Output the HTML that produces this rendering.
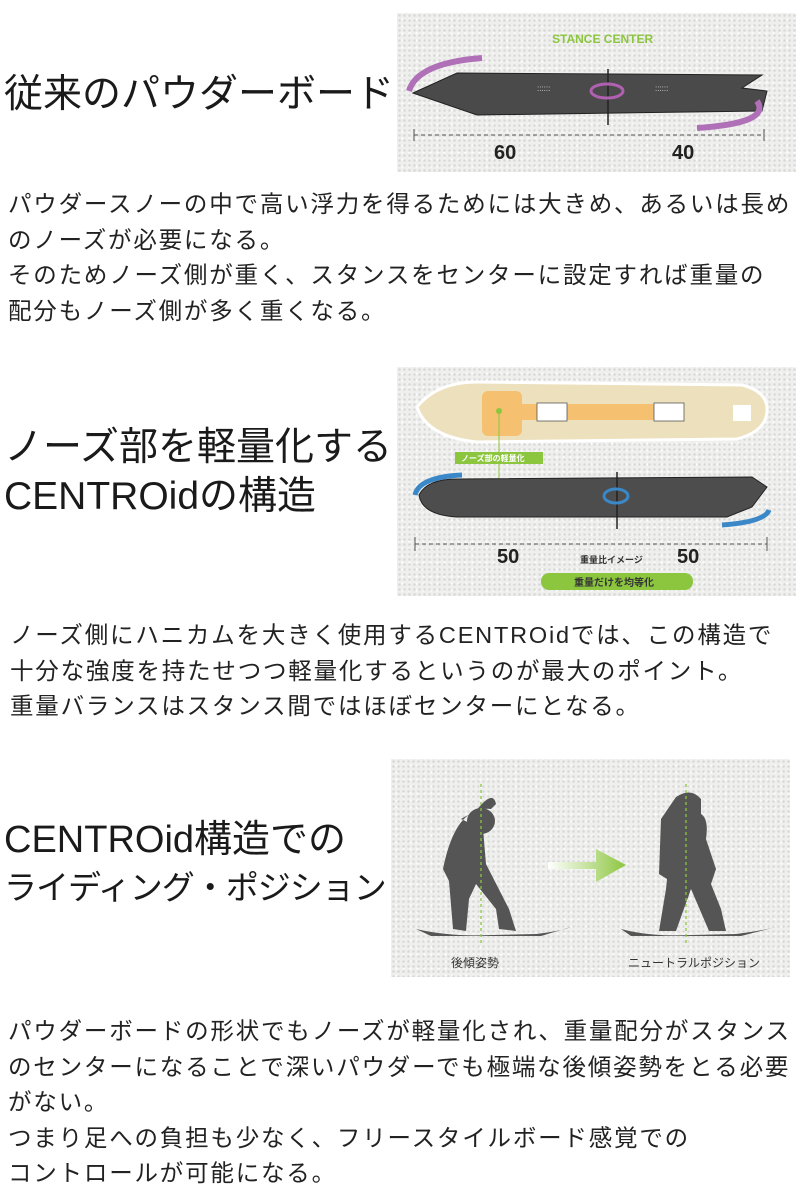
<!DOCTYPE html>
<html><head><meta charset="utf-8"><style>
*{margin:0;padding:0;box-sizing:border-box}
body{width:800px;height:1200px;background:#fff;position:relative;overflow:hidden;font-family:"Liberation Sans","Noto Sans CJK JP",sans-serif;color:#222}
.h{position:absolute;left:4px;font-size:39px;line-height:48px;white-space:nowrap;color:#1a1a1a;z-index:2}
.b{position:absolute;left:8px;font-size:23.5px;line-height:35.5px;white-space:nowrap;letter-spacing:1.8px;color:#222}
.img{position:absolute;background:#efefed;background-image:radial-gradient(#d8d8d6 1px,transparent 1.5px),radial-gradient(#fbfbfb 1px,transparent 1.5px);background-size:5px 5px,7px 7px;background-position:0 0,2px 3px}
</style></head><body>

<div class="h" style="top:71px">従来のパウダーボード</div>
<div class="img" style="left:397px;top:13px;width:399px;height:159px">
<svg width="399" height="159" viewBox="0 0 399 159">
<text x="155" y="30" font-family="Liberation Sans" font-weight="bold" font-size="12" fill="#8cc63f">STANCE CENTER</text>
<path d="M16 80 L60 60 L365 62 L345 75 L370 78 L365 98 L80 102 Z" fill="#4a4a4a" stroke="#222" stroke-width="1"/>
<line x1="211" y1="56" x2="211" y2="112" stroke="#222" stroke-width="1.5"/>
<ellipse cx="210" cy="78" rx="16" ry="7" fill="none" stroke="#b060b0" stroke-width="3"/>
<path d="M12 78 Q20 50 85 45" fill="none" stroke="#b070b8" stroke-width="6"/>
<path d="M360 88 Q375 110 300 115" fill="none" stroke="#b070b8" stroke-width="6"/>
<text x="140" y="78" font-size="8" fill="#ddd">::::::</text><text x="258" y="78" font-size="8" fill="#ddd">::::::</text>
<line x1="17" y1="122" x2="367" y2="122" stroke="#555" stroke-dasharray="4 3"/>
<line x1="17" y1="116" x2="17" y2="128" stroke="#555"/><line x1="367" y1="116" x2="367" y2="128" stroke="#555"/>
<text x="97" y="146" font-family="Liberation Sans" font-weight="bold" font-size="20" fill="#222">60</text>
<text x="275" y="146" font-family="Liberation Sans" font-weight="bold" font-size="20" fill="#222">40</text>
</svg></div>

<div class="b" style="top:187px">パウダースノーの中で高い浮力を得るためには大きめ、あるいは長め<br>のノーズが必要になる。<br>そのためノーズ側が重く、スタンスをセンターに設定すれば重量の<br>配分もノーズ側が多く重くなる。</div>

<div class="h" style="top:424px">ノーズ部を軽量化する</div>
<div class="h" style="top:473px">CENTROidの構造</div>
<div class="img" style="left:397px;top:367px;width:399px;height:229px">
<svg width="399" height="229" viewBox="0 0 399 229">
<path d="M20 40 Q40 15 80 15 L345 18 Q372 25 370 45 Q368 65 340 72 L80 75 Q30 70 20 40Z" fill="#ece0bd" stroke="#fff" stroke-width="3"/>
<rect x="85" y="24" width="40" height="45" rx="6" fill="#f5c070"/>
<rect x="125" y="37" width="135" height="16" fill="#f5c070"/>
<rect x="140" y="36" width="30" height="18" fill="#fff" stroke="#444" stroke-width="0.7"/>
<rect x="257" y="36" width="30" height="18" fill="#fff" stroke="#444" stroke-width="0.7"/>
<rect x="336" y="38" width="18" height="16" fill="#fff"/>
<circle cx="102" cy="44" r="3" fill="#8cc63f"/><line x1="102" y1="44" x2="102" y2="128" stroke="#8cc63f"/>
<rect x="58" y="85" width="88" height="12" fill="#8cc63f"/>
<text x="64" y="94" font-size="8" fill="#fff" font-weight="bold">ノーズ部の軽量化</text>
<path d="M22 128 Q30 112 60 112 L355 110 L370 120 L355 140 L330 150 L60 150 Q25 148 22 128Z" fill="#4d4d4d" stroke="#222"/>
<line x1="220" y1="105" x2="220" y2="162" stroke="#222" stroke-width="1.5"/>
<ellipse cx="219" cy="129" rx="12" ry="7" fill="none" stroke="#3a88c8" stroke-width="3"/>
<path d="M18 128 Q22 110 65 108" fill="none" stroke="#3a88c8" stroke-width="5"/>
<path d="M372 143 Q368 155 325 158" fill="none" stroke="#3a88c8" stroke-width="5"/>
<line x1="18" y1="177" x2="370" y2="177" stroke="#555" stroke-dasharray="4 3"/>
<line x1="18" y1="170" x2="18" y2="184" stroke="#555"/><line x1="370" y1="170" x2="370" y2="184" stroke="#555"/>
<text x="100" y="196" font-family="Liberation Sans" font-weight="bold" font-size="20" fill="#222">50</text>
<text x="280" y="196" font-family="Liberation Sans" font-weight="bold" font-size="20" fill="#222">50</text>
<text x="183" y="196" font-size="9" fill="#333" font-weight="bold">重量比イメージ</text>
<rect x="144" y="206" width="152" height="17" rx="8" fill="#8cc63f"/>
<text x="177" y="219" font-size="10" fill="#333" font-weight="bold">重量だけを均等化</text>
</svg></div>

<div class="b" style="top:618px;left:10px">ノーズ側にハニカムを大きく使用するCENTROidでは、この構造で<br>十分な強度を持たせつつ軽量化するというのが最大のポイント。<br>重量バランスはスタンス間ではほぼセンターにとなる。</div>

<div class="h" style="top:816px;font-size:38px">CENTROid構造での</div>
<div class="h" style="top:864px;font-size:33px;letter-spacing:-1px">ライディング・ポジション</div>
<div class="img" style="left:391px;top:759px;width:399px;height:218px">
<svg width="399" height="218" viewBox="0 0 399 218">
<defs><linearGradient id="g" x1="0" x2="1"><stop offset="0" stop-color="#fff"/><stop offset="1" stop-color="#8cc63f"/></linearGradient></defs>
<path d="M25 170 Q60 178 100 176 L145 175 Q170 172 180 168 L150 177 L40 177Z" fill="#555"/>
<path d="M70 60 Q90 48 100 50 L105 45 Q102 30 85 52 Q62 60 52 110 L58 122 L62 170 L75 172 L78 140 L85 125 L105 150 L108 170 L125 172 L118 150 L95 105 L92 70 Z" fill="#555"/>
<ellipse cx="90" cy="62" rx="14" ry="13" fill="#555"/>
<line x1="90" y1="25" x2="90" y2="185" stroke="#8cc63f" stroke-dasharray="3 3" stroke-width="1.3"/>
<path d="M157 103 L205 103 L205 90 L235 106 L205 123 L205 110 L157 110Z" fill="url(#g)"/>
<path d="M230 170 Q260 178 300 176 L345 175 Q370 172 385 168 L350 177 L240 177Z" fill="#555"/>
<path d="M285 38 Q300 28 310 40 L310 55 Q318 60 315 80 L325 110 L320 125 L330 150 L335 172 L318 172 L300 130 L285 172 L268 172 L275 130 L276 120 L268 115 L270 60 Z" fill="#555"/>
<line x1="295" y1="25" x2="295" y2="185" stroke="#8cc63f" stroke-dasharray="3 3" stroke-width="1.3"/>
<text x="60" y="208" font-size="12" fill="#333">後傾姿勢</text>
<text x="237" y="208" font-size="12" fill="#333">ニュートラルポジション</text>
</svg></div>

<div class="b" style="top:1014px">パウダーボードの形状でもノーズが軽量化され、重量配分がスタンス<br>のセンターになることで深いパウダーでも極端な後傾姿勢をとる必要<br>がない。<br>つまり足への負担も少なく、フリースタイルボード感覚での<br>コントロールが可能になる。</div>
</body></html>
